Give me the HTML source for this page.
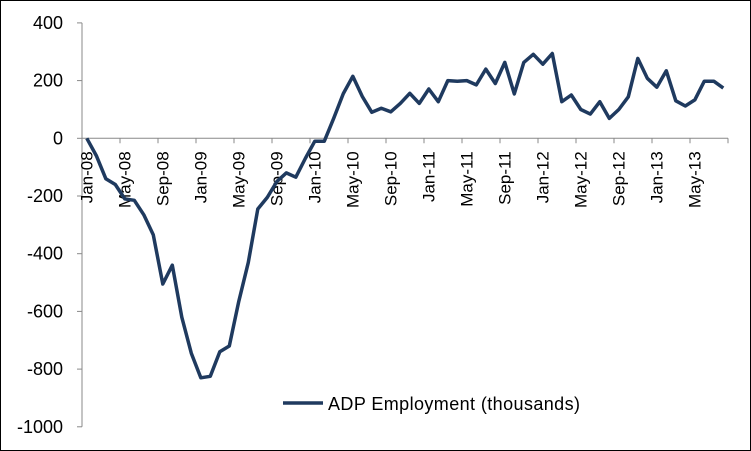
<!DOCTYPE html>
<html><head><meta charset="utf-8"><style>
body{margin:0;background:#fff;}
svg{display:block;font-family:"Liberation Sans",Calibri,sans-serif;}
</style></head><body>
<svg id="chart" width="751" height="451">
<rect x="0.5" y="0.5" width="750" height="450" fill="#fff" stroke="#000" stroke-width="1"/>
<g id="yaxis"></g>
<g id="xaxis"></g>
<g id="series"></g>
<g>
<line x1="283" y1="403" x2="323" y2="403" stroke="#1f3a5f" stroke-width="3.5"/>
<text x="328" y="410" font-size="18" textLength="252" fill="#000">ADP Employment (thousands)</text>
</g>
</svg>
<script>
const values=[0,-60,-140,-160,-210,-215,-265,-335,-505,-440,-620,-745,-830,-825,-740,-720,-565,-430,-245,-205,-150,-120,-135,-70,-10,-10,70,155,215,145,90,104,92,121,156,121,171,127,200,198,200,185,240,190,263,154,263,291,257,294,127,150,100,84,127,69,100,144,277,208,177,234,130,112,133,198,198,174];
const months=["Jan","Feb","Mar","Apr","May","Jun","Jul","Aug","Sep","Oct","Nov","Dec"];
const yTicks=[400,200,0,-200,-400,-600,-800,-1000];
const NS="http://www.w3.org/2000/svg";
const X0=82,CW=9.5,Y0=138.3,YS=57.7/200;
function xPos(i){return X0+CW/2+CW*i;}
function yPos(v){return Y0-v*YS;}
function mk(t,a,p){const e=document.createElementNS(NS,t);for(const k in a)e.setAttribute(k,a[k]);p.appendChild(e);return e;}
const ya=document.getElementById('yaxis'),xa=document.getElementById('xaxis'),se=document.getElementById('series');
const ax=mk('line',{x1:X0,y1:yPos(400),x2:X0,y2:yPos(-1000),stroke:'#888','stroke-width':1},ya);


yTicks.forEach(v=>{
 const t=mk('line',{x1:X0-5,y1:yPos(v),x2:X0,y2:yPos(v),stroke:'#888'},ya);
 
 
 const l=mk('text',{x:63,y:yPos(v)+6,'text-anchor':'end','font-size':18},ya);
 l.textContent=String(v);
 
 
});
const n=values.length;
const xl=mk('line',{x1:X0,y1:Y0,x2:X0+CW*n,y2:Y0,stroke:'#888'},xa);


for(let i=0;i<=n;i+=4){
 const t=mk('line',{x1:X0+CW*i,y1:Y0,x2:X0+CW*i,y2:Y0+5,stroke:'#888'},xa);
 
 
}
for(let i=0;i<n;i+=4){
 const lab=months[i%12]+"-"+String(8+Math.floor(i/12)).padStart(2,'0');
 const x=xPos(i)+6,y=Y0+13;
 const l=mk('text',{x:x,y:y,'text-anchor':'end','font-size':17,transform:`rotate(-90 ${x} ${y})`},xa);
 l.textContent=lab;
 
 
}
const pts=values.map((v,i)=>xPos(i).toFixed(1)+","+yPos(v).toFixed(1)).join(" ");
const pl=mk('polyline',{points:pts,fill:'none',stroke:'#1f3a5f','stroke-width':3.5,'stroke-linejoin':'round'},se);


</script>
</body></html>
